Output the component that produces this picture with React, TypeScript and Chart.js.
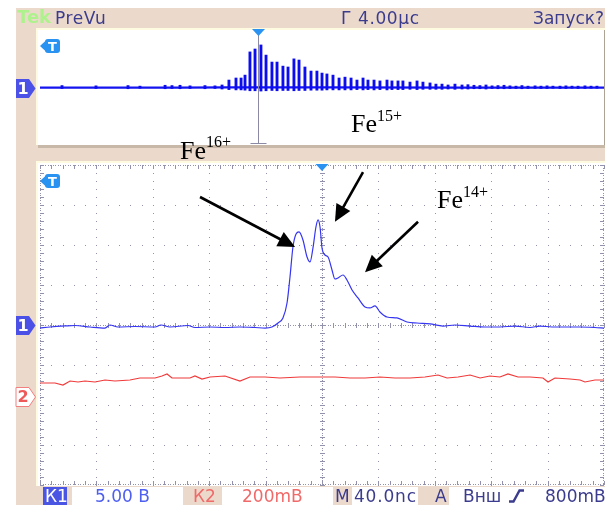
import React, { useEffect, useRef } from "react";
import { Chart, registerables } from "chart.js";

Chart.register(...registerables);

// ---------------- data ----------------
// Main window: 40 ns/div, channel 1 in volts (5 V/div), channel 2 in mV (200 mV/div)
const mainTimeRangeNs = [-200, 200];
const ch1VoltsPerDiv = 5;
const ch2MilliVoltsPerDiv = 200;
const ch2PositionDiv = -1.8;

const ch1TimeNs = [
  -200, -192.9, -182.3, -175.2, -164.5, -153.9, -150.4, -144.7, -132.6, -118.4, -114.2, -107.8,
  -95.0, -90.1, -79.4, -68.8, -58.2, -47.5, -40.4, -35.5, -31.2, -27.7, -24.8, -22.7, -20.6, -18.4,
  -16.3, -13.5, -10.6, -8.5, -6.4, -4.3, -2.8, -1.4, 0, 2.1, 4.3, 7.1, 9.2, 11.3, 14.9, 17.7, 21.3,
  25.5, 30.5, 34.0, 37.6, 41.1, 46.1, 53.2, 60.3, 67.4, 76.6, 85.8, 94.3, 104.9, 115.6, 126.2, 136.9,
  147.5, 154.6, 163.1, 172.3, 183.0, 193.6, 200,
];
const ch1Volts = [
  -0.38, -0.25, -0.12, -0.06, -0.25, -0.38, 0, -0.25, -0.19, -0.25, 0, -0.25,
  -0.06, -0.31, -0.25, -0.31, -0.25, -0.31, -0.38, -0.25, 0.25, 0.88, 2.75, 6.0, 9.75, 11.38,
  11.63, 10.63, 8.5, 7.88, 9.63, 12.25, 13.13, 12.25, 9.63, 8.75, 8.5, 6.88, 5.75, 5.88, 6.25, 5.63, 4.38,
  3.38, 2.25, 2.13, 2.38, 1.63, 1.0, 0.88, 0.38, 0.25, 0.13, -0.13, 0, -0.13, -0.25, -0.25, -0.13,
  -0.31, -0.13, -0.25, -0.25, -0.25, -0.31, -0.38,
];

const ch2TimeNs = [
  -200, -189.4, -183.7, -178.7, -173.0, -168.1, -161.0, -153.9, -146.8, -136.2, -129.1, -118.4,
  -113.5, -109.9, -106.4, -93.6, -90.1, -85.1, -79.4, -68.8, -58.2, -51.1, -40.4, -29.8, -15.6, -1.4,
  9.2, 19.9, 30.5, 41.1, 51.8, 62.4, 73.0, 82.3, 88.7, 96.5, 105.0, 112.1, 119.1, 126.2, 131.9, 139.0,
  147.5, 156.7, 160.3, 165.2, 175.9, 183.0, 186.5, 193.6, 200,
];
const ch2MilliVolts = [
  70, 70, 60, 80, 75, 80, 75, 85, 80, 85, 95, 95,
  105, 115, 95, 95, 105, 90, 100, 105, 80, 100, 100, 95, 100, 100,
  100, 95, 95, 100, 95, 95, 100, 110, 95, 100, 110, 95, 105, 100, 115, 100,
  100, 95, 75, 95, 90, 85, 75, 85, 85,
];

// PreVu overview: 4.00 us/div, 5 V/div
const prevuTimeRangeUs = [0, 40];
const prevuTriggerUs = 15.46;
const prevuSpikeTimeUs = [
  1.56, 3.97, 6.24, 7.09, 8.87, 9.36, 9.93, 10.64, 11.7, 12.41, 12.91,
  13.4, 13.9, 14.26, 14.54, 14.89, 15.25, 15.67, 16.03, 16.45, 16.81, 17.23, 17.59, 18.01, 18.37,
  18.79, 19.22, 19.64, 20.0, 20.35, 20.78, 21.21, 21.63, 22.06, 22.48, 22.91, 23.26, 23.69, 24.11,
  24.61, 24.96, 25.39, 25.74, 26.24, 26.74, 27.16, 27.66,
  28.08, 28.51, 28.94, 29.43, 29.93, 30.35, 30.78, 31.2, 31.63, 32.06, 32.48, 32.91, 33.33, 33.76,
  34.18, 34.61, 35.11, 35.53, 35.96, 36.38, 36.88, 37.3, 37.73, 38.16, 38.65, 39.08, 39.5,
];
const prevuSpikeTopV = [
  0.5, 0.4, 0.5, 0.3, 0.6, 0.5, 0.6, 0.4, 0.5, 0.4, 0.7,
  2.4, 3.1, 3.1, 4.1, 12.1, 13.1, 14.5, 11.0, 8.6, 8.6, 7.2, 6.9, 9.7, 9.3,
  6.9, 5.5, 5.5, 4.8, 4.5, 4.1, 3.1, 3.4, 3.1, 2.4, 3.1, 2.4, 2.4, 2.1,
  2.4, 2.1, 2.1, 2.1, 1.7, 2.1, 1.7, 1.4,
  1.0, 1.0, 0.7, 1.0, 0.7, 0.8, 0.6, 0.5, 0.7, 0.4, 0.5, 0.6, 0.4, 0.3,
  0.5, 0.3, 0.4, 0.3, 0.4, 0.3, 0.3, 0.4, 0.3, 0.3, 0.4, 0.3, 0.3,
];
const prevuSpikeLowV = [
  -0.5, -0.5, -0.6, -0.4, -0.6, -0.5, -0.6, -0.5, -0.6, -0.5, -0.7,
  -0.9, -1.0, -1.0, -1.1, -1.3, -1.3, -1.4, -1.3, -1.2, -1.3, -1.2, -1.2, -1.3, -1.2,
  -1.2, -1.1, -1.1, -1.1, -1.0, -1.0, -1.0, -1.0, -1.0, -0.9, -1.0, -0.9, -1.0, -0.9,
  -1.0, -0.9, -0.9, -0.9, -0.8, -0.9, -0.8, -0.8,
  -0.8, -0.8, -0.7, -0.8, -0.7, -0.7, -0.6, -0.6, -0.7, -0.5, -0.6, -0.6, -0.5, -0.5,
  -0.6, -0.5, -0.5, -0.5, -0.5, -0.4, -0.5, -0.5, -0.4, -0.5, -0.5, -0.4, -0.4,
];
const prevuBaseTimeUs = [0, 10, 13.4, 20, 30, 40];
const prevuBaseV = [-0.2, -0.2, -0.15, -0.15, -0.2, -0.2];

// annotation arrows (main window coordinates: ns, V)
const arrowTailNs = [-86.5, 29.1, 68.1];
const arrowTailV = [16.0, 19.1, 12.9];
const arrowTipNs = [-19.1, 9.2, 30.5];
const arrowTipV = [9.75, 12.9, 6.6];

// ---------------- styling ----------------
const PAGE_W = 611;
const PAGE_H = 505;
const BEIGE = "#ebdacb";
const NAVY = "#3c3c8e";
const GRID = "#9292ac";
const CH1_BLUE = "#3535f2";
const CH2_RED = "#f03a3a";
const TAG_BLUE = "#2a92f0";

function chanTag(ctx: CanvasRenderingContext2D, y: number, fill: string, stroke?: string) {
  ctx.beginPath();
  ctx.moveTo(16, y - 9.5);
  ctx.lineTo(29, y - 9.5);
  ctx.lineTo(35.5, y);
  ctx.lineTo(29, y + 9.5);
  ctx.lineTo(16, y + 9.5);
  ctx.closePath();
  ctx.fillStyle = fill;
  ctx.fill();
  if (stroke) {
    ctx.strokeStyle = stroke;
    ctx.lineWidth = 1;
    ctx.stroke();
  }
}

function trigTag(ctx: CanvasRenderingContext2D, y: number) {
  ctx.fillStyle = TAG_BLUE;
  ctx.beginPath();
  ctx.moveTo(40, y);
  ctx.lineTo(47, y - 6.5);
  ctx.lineTo(47, y + 6.5);
  ctx.closePath();
  ctx.fill();
  ctx.beginPath();
  const c: any = ctx;
  if (c.roundRect) c.roundRect(45, y - 7, 15, 14, 3);
  else ctx.rect(45, y - 7, 15, 14);
  ctx.fill();
}

function trigTriangle(ctx: CanvasRenderingContext2D, x: number, top: number) {
  ctx.fillStyle = TAG_BLUE;
  ctx.beginPath();
  ctx.moveTo(x - 6.5, top);
  ctx.lineTo(x + 6.5, top);
  ctx.lineTo(x, top + 7);
  ctx.closePath();
  ctx.fill();
}

const framePlugin = {
  id: "scopeFrame",
  beforeDraw(chart: any) {
    const ctx: CanvasRenderingContext2D = chart.ctx;
    ctx.save();
    ctx.fillStyle = "#ffffff";
    ctx.fillRect(0, 0, PAGE_W, PAGE_H);
    ctx.fillStyle = BEIGE;
    ctx.fillRect(16, 8, 589, PAGE_H - 8);
    // PreVu panel
    ctx.fillStyle = "#c8b8a7";
    ctx.fillRect(38, 145, 567, 3);
    ctx.fillStyle = "#fffbe0";
    ctx.fillRect(36, 28, 569, 117);
    ctx.fillStyle = "#ffffff";
    ctx.fillRect(38, 30, 566, 115);
    ctx.fillStyle = "#aea294";
    ctx.fillRect(604, 30, 1, 115);
    // main panel
    ctx.fillStyle = "#fffbe0";
    ctx.fillRect(36, 161, 569, 325);
    ctx.fillStyle = "#ffffff";
    ctx.fillRect(38, 163, 567, 323);
    // status bar cells
    ctx.fillStyle = "#ffffff";
    [[72, 183], [222, 333], [352, 418], [449, 605]].forEach(([a, b]) => ctx.fillRect(a, 487, b - a, 18));
    ctx.fillStyle = "#4b55e4";
    ctx.fillRect(43, 487, 24, 18);
    ctx.restore();
  },
};

const graticulePlugin = {
  id: "graticule",
  beforeDatasetsDraw(chart: any) {
    const ctx: CanvasRenderingContext2D = chart.ctx;
    const a = chart.chartArea;
    const xs = chart.scales.x;
    const ys = chart.scales.y;
    const [t0, t1] = mainTimeRangeNs;
    const divT = (t1 - t0) / 10;
    const px = (d: number) => xs.getPixelForValue(t0 + d * divT);
    const py = (d: number) => ys.getPixelForValue(d);
    const dot = (x: number, y: number) => ctx.fillRect(Math.round(x), Math.round(y), 1, 1);
    ctx.save();
    ctx.fillStyle = GRID;
    for (let i = 1; i < 10; i++) {
      if (i === 5) continue;
      for (let k = 0; k <= 40; k++) dot(px(i), py(-4 + k * 0.2));
    }
    for (let j = -3; j <= 3; j++) {
      if (j === 0) continue;
      for (let k = 0; k <= 50; k++) dot(px(k * 0.2), py(j));
    }
    // centre cross: dense dots + ticks
    const cx = px(5);
    const cy = py(0);
    for (let y = a.top; y <= a.bottom; y += 2.5) dot(cx, y);
    for (let x = a.left; x <= a.right; x += 2.5) dot(x, cy);
    for (let k = 0; k <= 40; k++) ctx.fillRect(Math.round(cx) - 2, Math.round(py(-4 + k * 0.2)), 5, 1);
    for (let k = 0; k <= 50; k++) ctx.fillRect(Math.round(px(k * 0.2)), Math.round(cy) - 2, 1, 5);
    // border: dense dots + inward ticks
    const L = Math.round(a.left), R = Math.round(a.right) - 1, T = Math.round(a.top), B = Math.round(a.bottom) - 1;
    for (let x = a.left; x <= a.right; x += 2.5) {
      dot(x, T);
      dot(x, B);
    }
    for (let y = a.top; y <= a.bottom; y += 2.5) {
      dot(L, y);
      dot(R, y);
    }
    for (let k = 0; k <= 50; k++) {
      const x = Math.round(px(k * 0.2));
      ctx.fillRect(x, T, 1, 4);
      ctx.fillRect(x, B - 3, 1, 4);
    }
    for (let k = 0; k <= 40; k++) {
      const y = Math.round(py(-4 + k * 0.2));
      ctx.fillRect(L, y, 4, 1);
      ctx.fillRect(R - 3, y, 4, 1);
    }
    ctx.restore();
  },
};

const mainMarksPlugin = {
  id: "mainMarks",
  afterDatasetsDraw(chart: any) {
    const ctx: CanvasRenderingContext2D = chart.ctx;
    const a = chart.chartArea;
    const xs = chart.scales.x;
    const ys = chart.scales.y;
    ctx.save();
    // arrows
    ctx.fillStyle = "#000";
    ctx.strokeStyle = "#000";
    ctx.lineWidth = 2.6;
    for (let i = 0; i < arrowTipNs.length; i++) {
      const x0 = xs.getPixelForValue(arrowTailNs[i]);
      const y0 = ys.getPixelForValue(arrowTailV[i] / ch1VoltsPerDiv);
      const x1 = xs.getPixelForValue(arrowTipNs[i]);
      const y1 = ys.getPixelForValue(arrowTipV[i] / ch1VoltsPerDiv);
      const dx = x1 - x0, dy = y1 - y0;
      const len = Math.hypot(dx, dy);
      const ux = dx / len, uy = dy / len;
      const hl = 17, hw = 8;
      const bx = x1 - ux * hl, by = y1 - uy * hl;
      ctx.beginPath();
      ctx.moveTo(x0, y0);
      ctx.lineTo(bx + ux * 3, by + uy * 3);
      ctx.stroke();
      ctx.beginPath();
      ctx.moveTo(x1, y1);
      ctx.lineTo(bx - uy * hw, by + ux * hw);
      ctx.lineTo(bx + uy * hw, by - ux * hw);
      ctx.closePath();
      ctx.fill();
    }
    // trigger position & tags
    trigTriangle(ctx, xs.getPixelForValue(0), a.top - 1);
    trigTag(ctx, 181);
    chanTag(ctx, ys.getPixelForValue(0) + 0.5, "#4b50e6");
    chanTag(ctx, ys.getPixelForValue(ch2PositionDiv), "#ffffff", "#f28080");
    // rising-edge trigger slope symbol in status bar
    ctx.strokeStyle = NAVY;
    ctx.lineWidth = 2.4;
    ctx.beginPath();
    ctx.moveTo(509, 501.5);
    ctx.lineTo(513.5, 501.5);
    ctx.lineTo(519.5, 490.5);
    ctx.lineTo(524, 490.5);
    ctx.stroke();
    ctx.restore();
  },
};

const prevuMarksPlugin = {
  id: "prevuMarks",
  afterDatasetsDraw(chart: any) {
    const ctx: CanvasRenderingContext2D = chart.ctx;
    const a = chart.chartArea;
    const x = Math.round(chart.scales.x.getPixelForValue(prevuTriggerUs)) + 0.5;
    ctx.save();
    ctx.strokeStyle = "#8a8aa4";
    ctx.lineWidth = 1;
    ctx.beginPath();
    ctx.moveTo(x, a.top + 6);
    ctx.lineTo(x, a.bottom - 1);
    ctx.moveTo(x - 8, a.bottom - 1.5);
    ctx.lineTo(x + 8, a.bottom - 1.5);
    ctx.stroke();
    trigTriangle(ctx, x, a.top);
    trigTag(ctx, 46);
    chanTag(ctx, chart.scales.y.getPixelForValue(0) + 1.5, "#4b50e6");
    ctx.restore();
  },
};

const sans = '"DejaVu Sans", Verdana, sans-serif';
const serif = '"Liberation Serif", "Times New Roman", serif';

function Txt(props: { text: string; left: number; top: number; size: number; color: string; bold?: boolean; width?: number; spacing?: number }) {
  const { text, left, top, size, color, bold, width, spacing } = props;
  return (
    <div
      style={{
        position: "absolute",
        left,
        top,
        width,
        textAlign: width ? "center" : "left",
        fontFamily: sans,
        fontSize: size,
        lineHeight: size + "px",
        fontWeight: bold ? "bold" : "normal",
        color,
        letterSpacing: spacing ?? 0,
        whiteSpace: "nowrap",
        pointerEvents: "none",
      }}
    >
      {text}
    </div>
  );
}

function Ion(props: { sup: string; left: number; top: number; raise: number }) {
  return (
    <div
      style={{
        position: "absolute",
        left: props.left,
        top: props.top,
        fontFamily: serif,
        fontSize: 26,
        lineHeight: "26px",
        color: "#000",
        whiteSpace: "nowrap",
        pointerEvents: "none",
      }}
    >
      Fe
      <span style={{ fontSize: 16, position: "relative", top: -props.raise }}>{props.sup}</span>
    </div>
  );
}

export default function App() {
  const mainRef = useRef<HTMLCanvasElement>(null);
  const prevuRef = useRef<HTMLCanvasElement>(null);

  useEffect(() => {
    document.body.style.margin = "0";
    const main = new Chart(mainRef.current as HTMLCanvasElement, {
      type: "line",
      data: {
        datasets: [
          {
            label: "К1",
            data: ch1TimeNs.map((t, i) => ({ x: t, y: ch1Volts[i] / ch1VoltsPerDiv })),
            borderColor: CH1_BLUE,
            borderWidth: 1.2,
            pointRadius: 0,
            cubicInterpolationMode: "monotone",
            fill: false,
          },
          {
            label: "К2",
            data: ch2TimeNs.map((t, i) => ({ x: t, y: ch2PositionDiv + ch2MilliVolts[i] / ch2MilliVoltsPerDiv })),
            borderColor: CH2_RED,
            borderWidth: 1.2,
            pointRadius: 0,
            tension: 0,
            fill: false,
          },
        ],
      } as any,
      options: {
        responsive: false,
        animation: false,
        events: [],
        layout: { padding: { left: 40, top: 165, right: 7, bottom: 20 } },
        scales: {
          x: { type: "linear", min: mainTimeRangeNs[0], max: mainTimeRangeNs[1], display: false },
          y: { min: -4, max: 4, display: false },
        },
        plugins: { legend: { display: false }, tooltip: { enabled: false } },
      } as any,
      plugins: [framePlugin, graticulePlugin, mainMarksPlugin] as any,
    });

    const prevu = new Chart(prevuRef.current as HTMLCanvasElement, {
      type: "bar",
      data: {
        datasets: [
          {
            type: "bar",
            data: prevuSpikeTimeUs.map((t, i) => ({ x: t, y: [prevuSpikeLowV[i], prevuSpikeTopV[i]] })),
            backgroundColor: "#0c0cf0",
            borderWidth: 0,
            barThickness: 2.2,
            grouped: false,
          },
          {
            type: "line",
            data: prevuBaseTimeUs.map((t, i) => ({ x: t, y: prevuBaseV[i] })),
            borderColor: "#1414f0",
            borderWidth: 2.2,
            pointRadius: 0,
            fill: false,
          },
        ],
      } as any,
      options: {
        responsive: false,
        animation: false,
        events: [],
        layout: { padding: { left: 40, top: 29, right: 7, bottom: 360 } },
        scales: {
          x: { type: "linear", min: prevuTimeRangeUs[0], max: prevuTimeRangeUs[1], offset: false, display: false },
          y: { min: -20, max: 20, display: false },
        },
        plugins: { legend: { display: false }, tooltip: { enabled: false } },
      } as any,
      plugins: [prevuMarksPlugin] as any,
    });

    return () => {
      main.destroy();
      prevu.destroy();
    };
  }, []);

  return (
    <div style={{ position: "fixed", left: 0, top: 0, width: PAGE_W, height: PAGE_H, overflow: "hidden", background: "#fff" }}>
      <canvas ref={mainRef} width={PAGE_W} height={PAGE_H} style={{ position: "absolute", left: 0, top: 0 }} />
      <canvas ref={prevuRef} width={PAGE_W} height={PAGE_H} style={{ position: "absolute", left: 0, top: 0 }} />

      {/* header */}
      <Txt text="Tek" left={17} top={8} size={18} color="#aef28e" bold />
      <Txt text="PreVu" left={55} top={10} size={17} color={NAVY} spacing={0.6} />
      <Txt text="Г 4.00μс" left={341} top={10} size={17} color={NAVY} spacing={0.6} />
      <Txt text="Запуск?" left={533} top={10} size={17} color={NAVY} />

      {/* tag glyphs */}
      <Txt text="T" left={45} top={39.7} size={13} color="#fff" bold width={15} />
      <Txt text="T" left={45} top={174.7} size={13} color="#fff" bold width={15} />
      <Txt text="1" left={16} top={80.8} size={16} color="#fff" bold width={14} />
      <Txt text="1" left={16} top={317.8} size={16} color="#fff" bold width={14} />
      <Txt text="2" left={16} top={389.3} size={16} color="#ee5a5a" bold width={14} />

      {/* status bar */}
      <Txt text="К1" left={45} top={488} size={17} color="#fff" />
      <Txt text="5.00 В" left={95} top={488} size={17} color="#4f5ff0" />
      <Txt text="К2" left={193} top={488} size={17} color="#f06a6a" />
      <Txt text="200mВ" left={242} top={488} size={17} color="#f06a6a" />
      <Txt text="M" left={335} top={488} size={17} color={NAVY} />
      <Txt text="40.0nс" left={354} top={488} size={17} color={NAVY} spacing={0.8} />
      <Txt text="A" left={435} top={488} size={17} color={NAVY} />
      <Txt text="Внш" left={463} top={488} size={17} color={NAVY} />
      <Txt text="800mВ" left={545} top={488} size={17} color={NAVY} />

      {/* ion labels */}
      <Ion sup="16+" left={180} top={138.2} raise={12} />
      <Ion sup="15+" left={351} top={111.2} raise={11} />
      <Ion sup="14+" left={437} top={187.2} raise={11} />
    </div>
  );
}
